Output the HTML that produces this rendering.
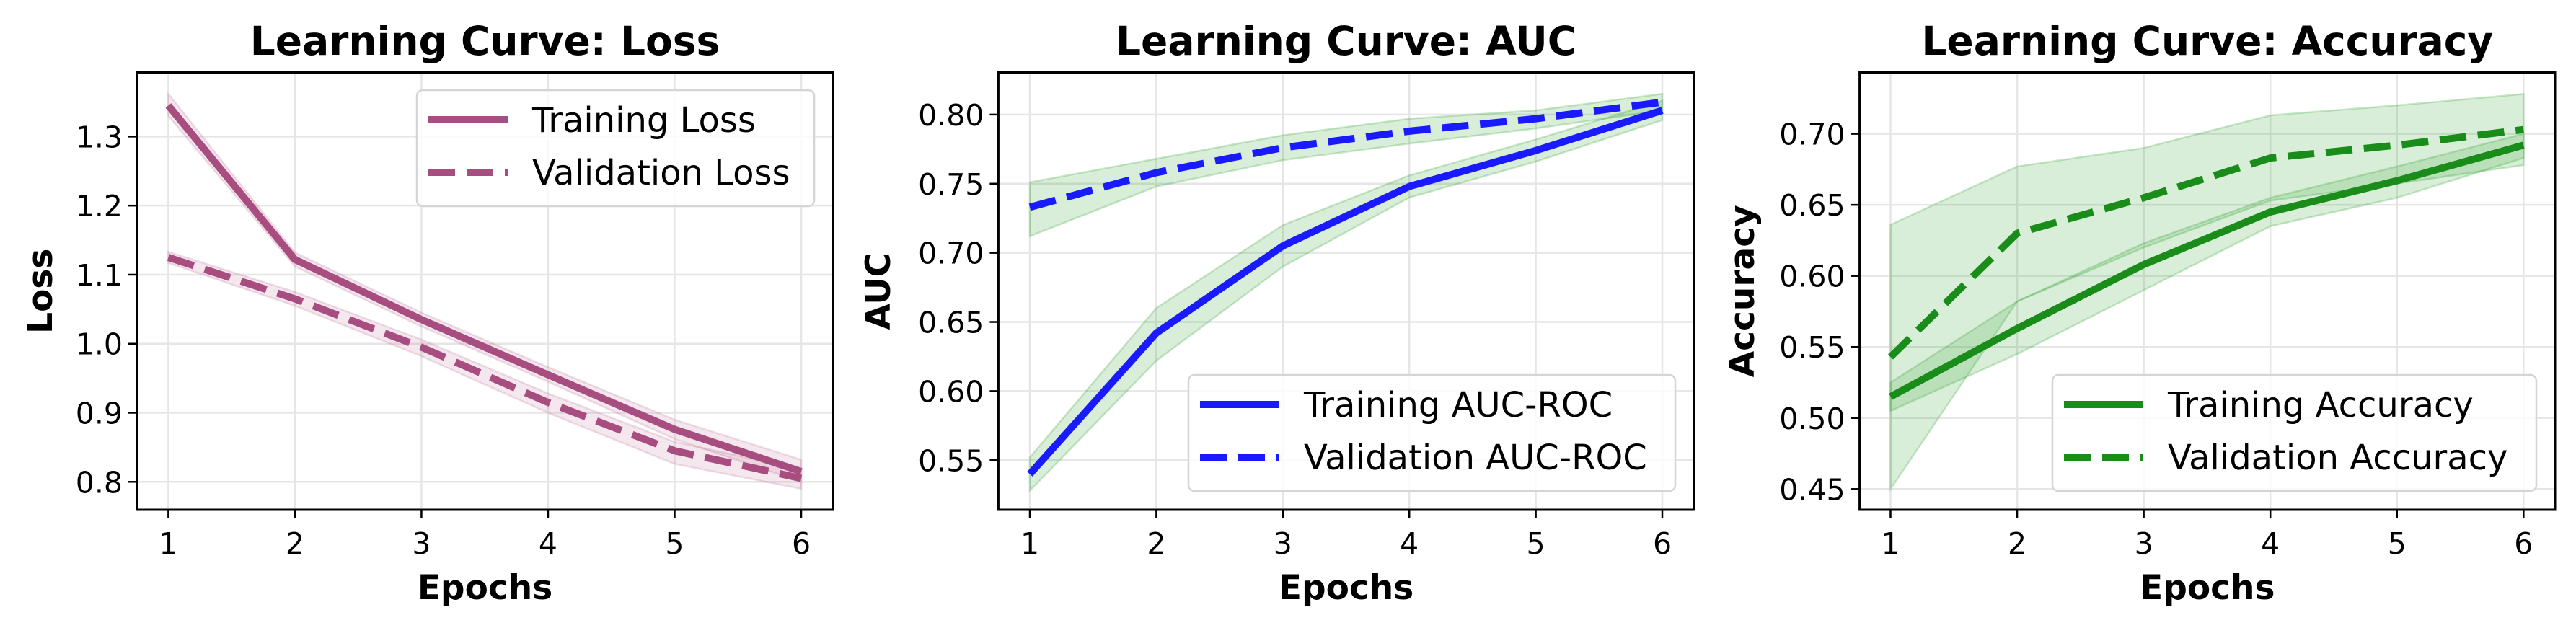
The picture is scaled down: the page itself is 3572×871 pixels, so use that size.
<!DOCTYPE html>
<html><head><meta charset="utf-8"><style>
html,body{margin:0;padding:0;background:#fff;}
svg{display:block;font-family:"DejaVu Sans","Liberation Sans",sans-serif;}
</style></head><body>
<svg id="chart" width="3572" height="871" viewBox="0 0 3572 871" xmlns="http://www.w3.org/2000/svg"></svg>
<script>
const epochs = [1,2,3,4,5,6];
// Loss panel
const lossTicks = [0.8,0.9,1.0,1.1,1.2,1.3];
const lossTickLabels = ["0.8","0.9","1.0","1.1","1.2","1.3"];
const trainLoss = [1.345,1.122,1.035,0.955,0.876,0.815];
const trainLossLo = [1.330,1.112,1.025,0.945,0.862,0.800];
const trainLossHi = [1.362,1.132,1.045,0.966,0.890,0.832];
const valLoss = [1.125,1.065,0.995,0.915,0.845,0.805];
const valLossLo = [1.117,1.055,0.982,0.900,0.826,0.790];
const valLossHi = [1.133,1.075,1.006,0.928,0.858,0.818];
// AUC panel
const aucTicks = [0.55,0.60,0.65,0.70,0.75,0.80];
const aucTickLabels = ["0.55","0.60","0.65","0.70","0.75","0.80"];
const trainAuc = [0.540,0.642,0.705,0.748,0.774,0.803];
const trainAucLo = [0.528,0.622,0.690,0.740,0.766,0.796];
const trainAucHi = [0.552,0.660,0.720,0.756,0.782,0.810];
const valAuc = [0.733,0.758,0.776,0.788,0.797,0.809];
const valAucLo = [0.712,0.748,0.767,0.779,0.790,0.803];
const valAucHi = [0.751,0.768,0.785,0.797,0.803,0.815];
// Accuracy panel
const accTicks = [0.45,0.50,0.55,0.60,0.65,0.70];
const accTickLabels = ["0.45","0.50","0.55","0.60","0.65","0.70"];
const trainAcc = [0.515,0.563,0.608,0.645,0.667,0.692];
const trainAccLo = [0.505,0.545,0.590,0.635,0.655,0.683];
const trainAccHi = [0.525,0.582,0.623,0.655,0.677,0.700];
const valAcc = [0.543,0.630,0.655,0.683,0.692,0.703];
const valAccLo = [0.450,0.582,0.620,0.653,0.665,0.678];
const valAccHi = [0.636,0.677,0.690,0.713,0.720,0.728];

const NS="http://www.w3.org/2000/svg";
const svg=document.getElementById('chart');
function mk(tag,attrs,parent){const e=document.createElementNS(NS,tag);for(const k in attrs)e.setAttribute(k,attrs[k]);(parent||svg).appendChild(e);return e;}

function panel(cfg){
  const g=mk('g',{});
  
  
  const xs=v=>cfg.x1+(v-1)*(cfg.x6-cfg.x1)/5;
  const ys=v=>cfg.yA+(v-cfg.vA)*(cfg.yB-cfg.yA)/(cfg.vB-cfg.vA);
  epochs.forEach(e=>{const l=mk('line',{x1:xs(e),x2:xs(e),y1:cfg.top,y2:cfg.bot,stroke:'#e6e6e6','stroke-width':2.5},g);
    
    });
  cfg.ticks.forEach(t=>{const l=mk('line',{x1:cfg.left,x2:cfg.right,y1:ys(t),y2:ys(t),stroke:'#e6e6e6','stroke-width':2.5},g);
    
    });
  cfg.series.forEach(s=>{
    let d='';
    epochs.forEach((e,i)=>{d+=(i?'L':'M')+xs(e)+','+ys(s.hi[i]);});
    for(let i=epochs.length-1;i>=0;i--)d+='L'+xs(epochs[i])+','+ys(s.lo[i]);
    const p=mk('path',{d:d+'Z',fill:cfg.band,'fill-opacity':0.18,stroke:cfg.band,'stroke-opacity':0.25,'stroke-width':2.5},g);
    
    
  });
  cfg.series.forEach(s=>{
    const pts=epochs.map((e,i)=>xs(e)+','+ys(s.v[i])).join(' ');
    const pl=mk('polyline',{points:pts,fill:'none',stroke:cfg.color,'stroke-width':10,'stroke-linejoin':'round'},g);
    if(s.dash)pl.setAttribute('stroke-dasharray','37,16');
    
    
  });
  const fr=mk('rect',{x:cfg.left,y:cfg.top,width:cfg.right-cfg.left,height:cfg.bot-cfg.top,fill:'none',stroke:'#000','stroke-width':3},g);
  
  
  epochs.forEach(e=>{
    mk('line',{x1:xs(e),x2:xs(e),y1:cfg.bot,y2:cfg.bot+12,stroke:'#000','stroke-width':2.5},g);
    const t=mk('text',{x:xs(e),y:768,'font-size':41,'text-anchor':'middle'},g);t.textContent=e;
    
    
  });
  cfg.ticks.forEach((v,i)=>{
    mk('line',{x1:cfg.left-12,x2:cfg.left,y1:ys(v),y2:ys(v),stroke:'#000','stroke-width':2.5},g);
    const t=mk('text',{x:cfg.left-20,y:ys(v)+15,'font-size':41,'text-anchor':'end'},g);t.textContent=cfg.tickLabels[i];
    
    
  });
  const ti=mk('text',{x:(cfg.left+cfg.right)/2,y:76,'font-size':55,'font-weight':'bold','text-anchor':'middle'},g);ti.textContent=cfg.title;
  
  
  const xl=mk('text',{x:(cfg.left+cfg.right)/2,y:831,'font-size':47,'font-weight':'bold','text-anchor':'middle'},g);xl.textContent='Epochs';
  
  
  const yl=mk('text',{x:0,y:0,'font-size':47,'font-weight':'bold','text-anchor':'middle',transform:`translate(${cfg.ylx},${(cfg.top+cfg.bot)/2}) rotate(-90)`},g);yl.textContent=cfg.ylabel;
  
  
  const L=cfg.legend;
  const lg=mk('g',{},g);
  
  
  mk('rect',{x:L.x,y:L.y,width:L.w,height:L.h,rx:8,fill:'#fff','fill-opacity':0.8,stroke:'#d5d5d5','stroke-width':2.5},lg);
  cfg.series.forEach((s,i)=>{
    const yy=L.y+41+i*73;
    const ln=mk('line',{x1:L.x+16,x2:L.x+126,y1:yy,y2:yy,stroke:cfg.color,'stroke-width':10},lg);
    if(s.dash)ln.setAttribute('stroke-dasharray','37,16');
    const tx=mk('text',{x:L.x+160,y:yy+17,'font-size':48},lg);tx.textContent=s.label;
    
    
  });
}

panel({name:'loss-panel',title:'Learning Curve: Loss',ylabel:'Loss',ylx:72,left:190,right:1155,top:100.5,bot:707,
  x1:233.4,x6:1111,vA:1.3,yA:189.4,vB:0.8,yB:668.3,ticks:lossTicks,tickLabels:lossTickLabels,
  color:'#a84d7f',band:'#c27ba0',legend:{x:578,y:125,w:551,h:161},
  series:[{key:'training-loss',label:'Training Loss',v:trainLoss,lo:trainLossLo,hi:trainLossHi},
          {key:'validation-loss',label:'Validation Loss',v:valLoss,lo:valLossLo,hi:valLossHi,dash:true}]});
panel({name:'auc-panel',title:'Learning Curve: AUC',ylabel:'AUC',ylx:1234,left:1384.4,right:2348.7,top:100.5,bot:707,
  x1:1428,x6:2305,vA:0.80,yA:158.9,vB:0.55,yB:638.3,ticks:aucTicks,tickLabels:aucTickLabels,
  color:'#1a1aff',band:'#2ca02c',legend:{x:1648,y:520,w:675,h:161},
  series:[{key:'training-auc',label:'Training AUC-ROC',v:trainAuc,lo:trainAucLo,hi:trainAucHi},
          {key:'validation-auc',label:'Validation AUC-ROC',v:valAuc,lo:valAucLo,hi:valAucHi,dash:true}]});
panel({name:'accuracy-panel',title:'Learning Curve: Accuracy',ylabel:'Accuracy',ylx:2432,left:2578.6,right:3543,top:100.5,bot:707,
  x1:2621.5,x6:3499.3,vA:0.70,yA:185.6,vB:0.45,yB:678.3,ticks:accTicks,tickLabels:accTickLabels,
  color:'#198c19',band:'#2ca02c',legend:{x:2846,y:520,w:671,h:161},
  series:[{key:'training-accuracy',label:'Training Accuracy',v:trainAcc,lo:trainAccLo,hi:trainAccHi},
          {key:'validation-accuracy',label:'Validation Accuracy',v:valAcc,lo:valAccLo,hi:valAccHi,dash:true}]});
</script>
</body></html>
